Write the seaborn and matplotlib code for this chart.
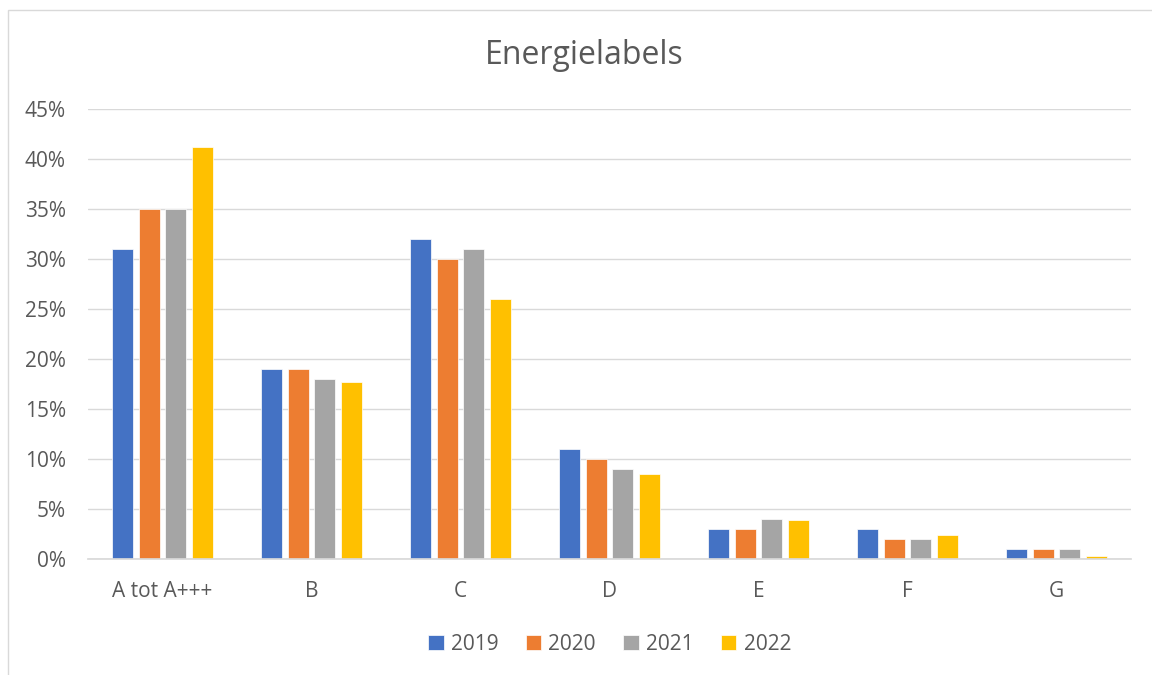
import matplotlib
matplotlib.use("Agg")
import matplotlib.pyplot as plt
import seaborn as sns
import pandas as pd
from matplotlib.patches import Rectangle
from matplotlib.ticker import PercentFormatter

categories = ["A tot A+++", "B", "C", "D", "E", "F", "G"]
years = ["2019", "2020", "2021", "2022"]
v2019 = [31, 19, 32, 11, 3, 3, 1]
v2020 = [35, 19, 30, 10, 3, 2, 1]
v2021 = [35, 18, 31, 9, 4, 2, 1]
v2022 = [41.2, 17.7, 26, 8.5, 3.9, 2.4, 0.3]
colors = ["#4472C4", "#ED7D31", "#A5A5A5", "#FFC000"]

rows = []
for y, vals in zip(years, [v2019, v2020, v2021, v2022]):
    for c, v in zip(categories, vals):
        rows.append({"cat": c, "year": y, "val": v / 100})
df = pd.DataFrame(rows)

sns.set_theme(style="white")
plt.rcParams["font.family"] = ["Open Sans", "DejaVu Sans"]
txt = "#595959"

fig = plt.figure(figsize=(11.52, 6.75), dpi=100)
ax = fig.add_axes([88/1152, 1-559/675, (1131-88)/1152, 450/675])

sns.barplot(data=df, x="cat", y="val", hue="year", palette=colors,
            order=categories, hue_order=years, width=0.72, gap=0.22,
            ax=ax, legend=True, saturation=1, linewidth=0.5, edgecolor="white")

ax.set_ylim(0, 0.45)
ax.set_yticks([i*0.05 for i in range(10)])
ax.yaxis.set_major_formatter(PercentFormatter(1.0, decimals=0))
ax.grid(axis="y", color="#D9D9D9", linewidth=1)
ax.set_axisbelow(True)
for s in ["top", "right", "left"]:
    ax.spines[s].set_visible(False)
ax.spines["bottom"].set_color("#D9D9D9")
ax.set_xlabel("")
ax.set_ylabel("")
ax.tick_params(axis="both", length=0, labelsize=15, colors=txt)
ax.tick_params(axis="y", pad=16)
ax.tick_params(axis="x", pad=16)
ax.set_xlim(-0.5, 6.5)

fig.text(584/1152, 1-55/675, "Energielabels", ha="center", va="center",
         fontsize=23, color=txt)

leg = ax.legend(loc="center", bbox_to_anchor=(0.5, -0.19), ncol=4, frameon=False,
                fontsize=15, handlelength=0.75, handleheight=0.75, handletextpad=0.35,
                columnspacing=1.3, labelcolor=txt)

fig.patches.append(Rectangle((8/1152, -0.1), 1.2, 1-10/675+0.1, transform=fig.transFigure,
                             fill=False, edgecolor="#D9D9D9", linewidth=1))

fig.savefig("out.png", dpi=100)
